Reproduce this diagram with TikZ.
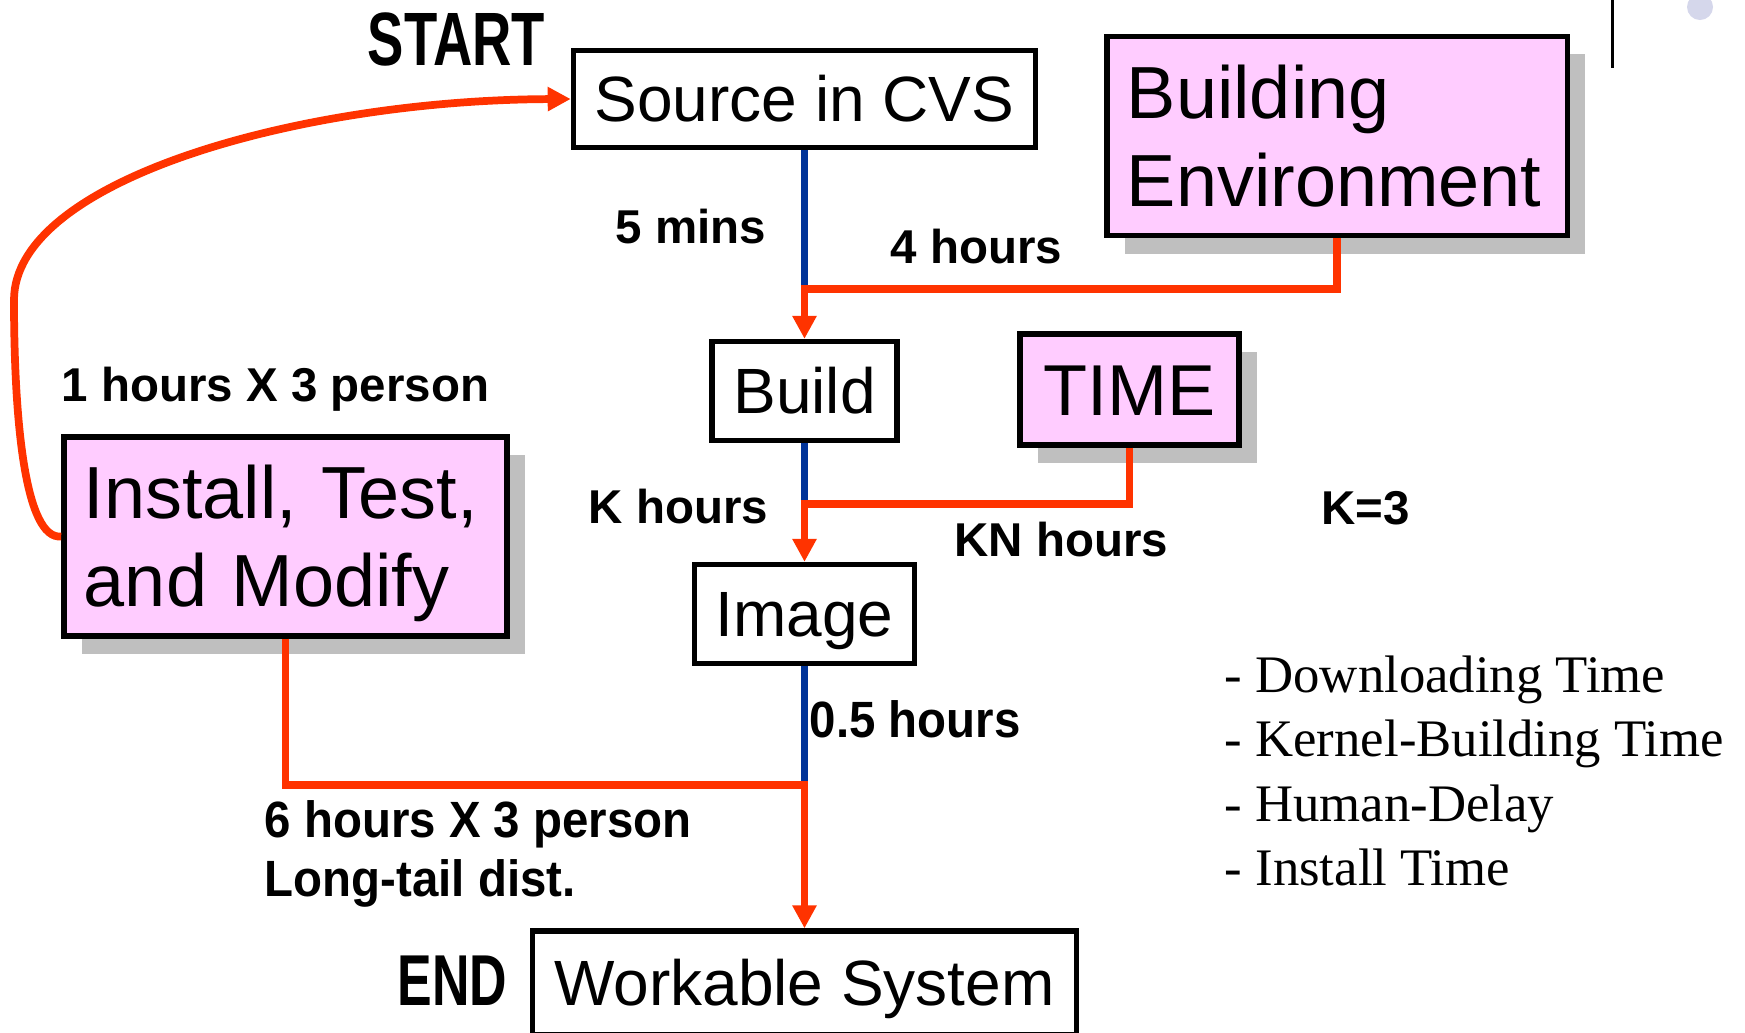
\documentclass[tikz,border=0pt]{standalone}
\usepackage{fontspec}
\setmainfont{Liberation Sans}
\newfontfamily\listfont{Liberation Serif}
\newfontfamily\narrowfont{Liberation Sans}[FakeStretch=0.93]
\newfontfamily\heavyfont{Liberation Sans}[FakeStretch=0.72]
\usetikzlibrary{arrows.meta,shadows}

\definecolor{pinkfill}{HTML}{FFCCFF}
\definecolor{shadowgray}{HTML}{BFBFBF}
\definecolor{flowred}{HTML}{FF3300}
\definecolor{flowblue}{HTML}{003399}
\definecolor{dotcolor}{HTML}{D5D7EB}

\begin{document}
\begin{tikzpicture}[x=0.01cm,y=-0.01cm,
  boxbase/.style={draw=black, line width=1.5pt, fill=white, inner sep=0pt},
  flowbox/.style={boxbase, text height=13.03pt, text depth=0pt,
    font=\fontsize{18.2}{22}\selectfont},
  pinkbox/.style={boxbase, fill=pinkfill,
    drop shadow={shadow xshift=0.18cm, shadow yshift=-0.18cm, fill=shadowgray, opacity=1},
    font=\fontsize{21}{25}\selectfont},
  pinktext/.style={align=left, inner xsep=0.2cm},
  rline/.style={draw=flowred, line width=2.2pt, line join=miter,
    -{Triangle[length=0.23cm,width=0.23cm]}},
  bline/.style={draw=flowblue, line width=2.2pt},
  tlabel/.style={inner sep=0pt, anchor=base west, font=\fontsize{13.5}{16}\selectfont\bfseries},
  nlabel/.style={inner sep=0pt, anchor=base west, font=\fontsize{14.5}{17}\selectfont\narrowfont\bfseries},
  heavy/.style={inner sep=0pt, anchor=base west, font=\fontsize{21.5}{25}\selectfont\heavyfont\bfseries},
  listitem/.style={inner sep=0pt, anchor=base west, font=\fontsize{15}{18}\selectfont\listfont}
]
\useasboundingbox (0,0) rectangle (1745,1032);

% corner marks
\draw[line width=0.85pt] (1612,0) -- (1612,68);
\fill[dotcolor] (1700,7) circle (13);

% process boxes
\node[flowbox, minimum width=4.62cm, minimum height=0.97cm] (source) at (804.5,99) {Source in CVS};
\node[flowbox, minimum width=1.85cm, minimum height=0.99cm] (build) at (804.5,391) {Build};
\node[flowbox, minimum width=2.20cm, minimum height=0.99cm] (image) at (804.5,614) {Image};
\node[flowbox, minimum width=5.43cm, minimum height=1.04cm] (workable) at (804.5,983) {Workable System};

% factor boxes
\node[pinkbox, pinktext, text width=4.20cm, minimum height=1.99cm] (building) at (1337,136)
  {Building\\Environment};
\node[pinkbox, minimum width=2.19cm, minimum height=1.11cm, text height=14.7pt, text depth=0pt,
  font=\fontsize{20.5}{24}\selectfont] (time) at (1129.5,389.5) {TIME};
\node[pinkbox, pinktext, text width=4.03cm, minimum height=1.99cm] (install) at (285.5,536.5)
  {Install, Test,\\and Modif\smash{y}};

% junction points on the main line
\coordinate (j1) at (804.5,289);
\coordinate (j2) at (804.5,504);
\coordinate (j3) at (804.5,785);

% main line segments
\draw[bline] (source.south) -- (j1);
\draw[bline] (build.south) -- (j2);
\draw[bline] (image.south) -- (j3);

% contributions joining the main line
\draw[rline] (building.south) |- (j1) -- (build.north);
\draw[rline] (time.south) |- (j2) -- (image.north);
\draw[rline] (install.south) |- (j3) -- (workable.north);

% feedback loop
\draw[rline] (install.west) .. controls (25,540) and (14,420) .. (14,300)
  .. controls (14,180) and (300,100) .. (source.west);

% start / end marks
\node[heavy] (startlbl) at (367,65) {START};
\node[heavy, font=\fontsize{20.5}{24}\selectfont\heavyfont\bfseries] (endlbl) at (397,1005) {END};

% durations
\node[tlabel] (l5min) at (615,243) {5 mins};
\node[tlabel] (l4h) at (890,263) {4 hours};
\node[tlabel] (l1h) at (61,401) {1 hours X 3 person};
\node[tlabel] (lkh) at (588,523) {K hours};
\node[tlabel] (lknh) at (954,556) {KN hours};
\node[tlabel] (lk3) at (1321,524) {K=3};
\node[nlabel] (l05h) at (809,737) {0.5 hours};
\node[nlabel] (l6h) at (264,837) {6 hours X 3 person};
\node[nlabel] (ltail) at (264,896) {Long-tail dist.};

% list of time components
\node[listitem] (item1) at (1224,692) {- Downloading Time};
\node[listitem] (item2) at (1224,756) {- Kernel-Building Time};
\node[listitem] (item3) at (1224,821) {- Human-Delay};
\node[listitem] (item4) at (1224,885) {- Install Time};
\end{tikzpicture}
\end{document}
